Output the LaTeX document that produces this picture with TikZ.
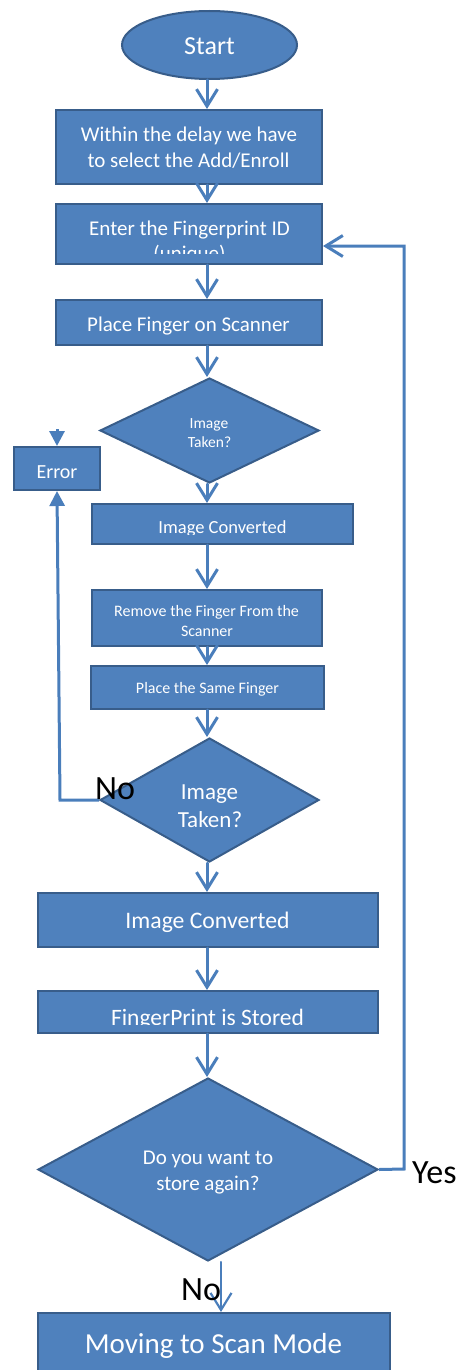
\documentclass[tikz,border=0pt]{standalone}
\usepackage{fontspec}
\setmainfont{Carlito}
\usetikzlibrary{shapes.geometric,arrows.meta}
\definecolor{boxfill}{HTML}{4F81BD}
\definecolor{boxline}{HTML}{385D8A}
\definecolor{conn}{HTML}{4A7EBB}
\newcommand{\fsz}[1]{\fontsize{#1}{#1}\selectfont}
\tikzset{
  stepbox/.style={rectangle, draw=boxline, fill=boxfill, line width=2pt, inner sep=0pt},
  decbox/.style={diamond, draw=boxline, fill=boxfill, line width=2pt, inner sep=0pt, aspect=1},
  termbox/.style={ellipse, draw=boxline, fill=boxfill, line width=2pt, inner sep=0pt},
  txt/.style={anchor=base, inner sep=0pt, text=white},
  lab/.style={anchor=base west, inner sep=0pt, text=black, font=\fsz{34}},
  arr/.style={draw=conn, line width=3pt, line cap=round, -{Straight Barb[length=17pt,width=21pt]}},
  loopln/.style={draw=conn, line width=3pt, -{Triangle[length=15pt,width=15pt]}},
}
\begin{document}
\begin{tikzpicture}[x=1pt,y=-1pt]
\useasboundingbox (0,0) rectangle (460,1370);
% shapes
\node[termbox, minimum width=175pt, minimum height=68pt] (start) at (209.5,45) {};
\node[stepbox, minimum width=266pt, minimum height=74pt] (b1) at (189,147) {};
\node[stepbox, minimum width=266pt, minimum height=60pt] (b2) at (189,234) {};
\node[stepbox, minimum width=266pt, minimum height=45pt] (b3) at (189,322.5) {};
\node[decbox, minimum width=219pt, minimum height=105pt] (d1) at (209.5,430.5) {};
\node[stepbox, minimum width=86pt, minimum height=43pt] (err) at (57,468.5) {};
\node[stepbox, minimum width=261pt, minimum height=40pt] (ic1) at (222.5,524) {};
\node[stepbox, minimum width=230pt, minimum height=56pt] (rm) at (207,618) {};
\node[stepbox, minimum width=233pt, minimum height=43pt] (ps) at (207.5,687.5) {};
\node[decbox, minimum width=219pt, minimum height=124pt] (d2) at (209.5,800) {};
\node[stepbox, minimum width=340pt, minimum height=54pt] (ic2) at (208,920) {};
\node[stepbox, minimum width=340pt, minimum height=42pt] (st) at (208,1012) {};
\node[decbox, minimum width=340pt, minimum height=183pt] (d3) at (208,1169.5) {};
\node[stepbox, minimum width=352pt, minimum height=70pt] (mv) at (214,1348) {};
% texts
\node[txt, font=\fsz{26}] (tStart) at (209.5,55) {Start};
\node[txt, font=\fsz{21}] (tb1a) at (189,141.7) {Within the delay we have};
\node[txt, font=\fsz{21}] (tb1b) at (188.5,167) {to select the Add/Enroll};
\node[txt, font=\fsz{21}] (tb2a) at (189.5,235) {Enter the Fingerprint ID};
\begin{scope}
  \clip (56,204) rectangle (322,253);
  \node[txt, font=\fsz{21}] (tb2b) at (189.5,260.5) {(unique)};
\end{scope}
\node[txt, font=\fsz{21}] (tb3) at (188.5,331.7) {Place Finger on Scanner};
\node[txt, font=\fsz{15.5}] (td1a) at (209,428.3) {Image};
\node[txt, font=\fsz{15.5}] (td1b) at (209.5,447.3) {Taken?};
\node[txt, font=\fsz{20}] (terr) at (57,478.7) {Error};
\begin{scope}
  \clip (92,504) rectangle (353,534.5);
  \node[txt, font=\fsz{18.5}] (tic1) at (222.5,533.3) {Image Converted};
\end{scope}
\node[txt, font=\fsz{16}] (trma) at (206.5,616.7) {Remove the Finger From the};
\node[txt, font=\fsz{16}] (trmb) at (207,636.7) {Scanner};
\node[txt, font=\fsz{16}] (tps) at (207.5,693.3) {Place the Same Finger};
\node[txt, font=\fsz{23}] (td2a) at (209.5,799) {Image};
\node[txt, font=\fsz{23}] (td2b) at (210,827) {Taken?};
\node[txt, font=\fsz{23.7}] (tic2) at (207.5,928.3) {Image Converted};
\begin{scope}
  \clip (38,991) rectangle (378,1024);
  \node[txt, font=\fsz{23.5}] (tst) at (207.5,1025) {FingerPrint is Stored};
\end{scope}
\node[txt, font=\fsz{21}] (td3a) at (208,1164.3) {Do you want to};
\node[txt, font=\fsz{21}] (td3b) at (208,1190) {store again?};
\node[txt, font=\fsz{29}] (tmv) at (213.5,1353.3) {Moving to Scan Mode};
% connectors
\coordinate (col) at (207,0);
\coordinate (col2) at (221,0);
\draw[arr] (start.south -| col) -- (b1.north -| col);
\draw[arr] (b1.south -| col) -- (b2.north -| col);
\draw[arr] (b2.south -| col) -- (b3.north -| col);
\draw[arr] (b3.south -| col) -- (d1.north -| col);
\draw[arr] (d1.south -| col) -- (ic1.north -| col);
\draw[arr] (ic1.south -| col) -- (rm.north -| col);
\draw[arr] (rm.south -| col) -- (ps.north -| col);
\draw[arr] (ps.south -| col) -- (d2.north -| col);
\draw[arr] (d2.south -| col) -- (ic2.north -| col);
\draw[arr] (ic2.south -| col) -- (st.north -| col);
\draw[arr] (st.south -| col) -- (d3.north -| col);
\draw[arr, line width=2.2pt] (d3.south -| col2) -- (mv.north -| col2);
\coordinate (eL) at (60,800);
\draw[loopln] (d2.west) -- (eL) -- (err.south);
\coordinate (eT) at (57,429);
\draw[loopln] (eT) -- (err.north);
\coordinate (yR) at (404,1169);
\coordinate (yT) at (404,246);
\draw[arr, line cap=butt] (d3.east) -- (yR) -- (yT) -- (yT -| b2.east);
% labels
\node[lab] (lNo1) at (95,799) {No};
\node[lab] (lYes) at (412,1183) {Yes};
\node[lab] (lNo2) at (181,1300) {No};
\end{tikzpicture}
\end{document}
